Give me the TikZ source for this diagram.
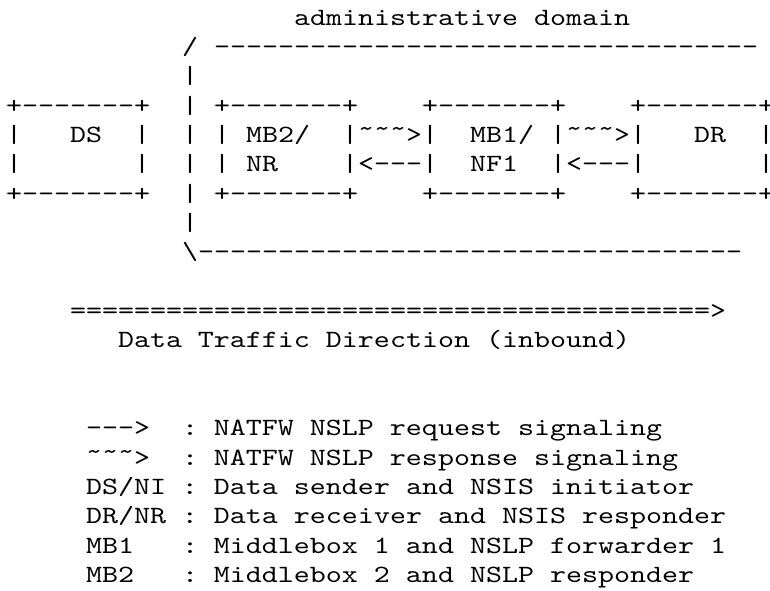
\documentclass[tikz,border=0pt]{standalone}
\usepackage{fontspec}
\setmonofont[FakeStretch=1.229]{lmmono10-regular.otf}
\newcommand{\tildech}{\raisebox{0.25em}{\textasciitilde}}

\begin{document}
\begin{tikzpicture}[x=16pt,y=-29.33pt,
    ascii/.style={font={\ttfamily\fontsize{24.8pt}{29.33pt}\selectfont},anchor=base west,inner sep=0pt,outer sep=0pt}]
    \useasboundingbox[fill=white] (-0.375,-0.863) rectangle (47.75,19.254);

    \node[ascii] (title) at (18,0) {administrative domain};
    \node[ascii] (domTopSlash) at (11,1) {/};
    \node[ascii] (domTopLine) at (13,1) {----------------------------------};
    \foreach \r in {2,...,7}
        \node[ascii] (domBar\r) at (11,\r) {|};
    \node[ascii] (domBot) at (11,8) {\textbackslash----------------------------------};

    \foreach \c/\b in {0/ds,13/mbt,26/mbo,39/dr}{
        \node[ascii] (\b Top) at (\c,3) {+-------+};
        \node[ascii] (\b Bot) at (\c,6) {+-------+};
    }

    \node[ascii] (dsLeftA) at (0,4) {|};
    \node[ascii] (dsName) at (4,4) {DS};
    \node[ascii] (dsRightA) at (8,4) {|};
    \node[ascii] (mbtLeftA) at (13,4) {|};
    \node[ascii] (mbtName) at (15,4) {MB2/};
    \node[ascii] (respA) at (21,4) {|\tildech\tildech\tildech>|};
    \node[ascii] (mboName) at (29,4) {MB1/};
    \node[ascii] (respB) at (34,4) {|\tildech\tildech\tildech>|};
    \node[ascii] (drName) at (43,4) {DR};
    \node[ascii] (drRightA) at (47,4) {|};

    \node[ascii] (dsLeftB) at (0,5) {|};
    \node[ascii] (dsRightB) at (8,5) {|};
    \node[ascii] (mbtLeftB) at (13,5) {|};
    \node[ascii] (mbtRole) at (15,5) {NR};
    \node[ascii] (reqA) at (21,5) {|<---|};
    \node[ascii] (mboRole) at (29,5) {NF1};
    \node[ascii] (reqB) at (34,5) {|<---|};
    \node[ascii] (drRightB) at (47,5) {|};

    \node[ascii] (flow) at (4,10) {========================================>};
    \node[ascii] (flowLabel) at (7,11) {Data Traffic Direction (inbound)};

    \node[ascii] (keyReq) at (5,14) {--->};
    \node[ascii] (keyReqText) at (11,14) {: NATFW NSLP request signaling};
    \node[ascii] (keyResp) at (5,15) {\tildech\tildech\tildech>};
    \node[ascii] (keyRespText) at (11,15) {: NATFW NSLP response signaling};
    \node[ascii] (keyDS) at (5,16) {DS/NI : Data sender and NSIS initiator};
    \node[ascii] (keyDR) at (5,17) {DR/NR : Data receiver and NSIS responder};
    \node[ascii] (keyMBo) at (5,18) {MB1};
    \node[ascii] (keyMBoText) at (11,18) {: Middlebox 1 and NSLP forwarder 1};
    \node[ascii] (keyMBt) at (5,19) {MB2};
    \node[ascii] (keyMBtText) at (11,19) {: Middlebox 2 and NSLP responder};
\end{tikzpicture}
\end{document}
